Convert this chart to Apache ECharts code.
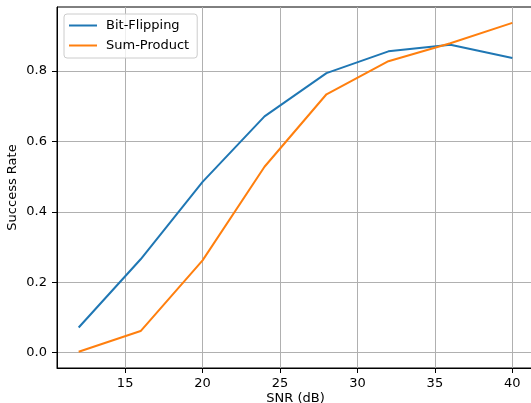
<!DOCTYPE html>
<html>
<head>
<meta charset="utf-8">
<script src="https://cdn.jsdelivr.net/npm/echarts@6/dist/echarts.min.js"></script>
<style>html,body{margin:0;padding:0;background:#fff;}#c{width:531px;height:403px;}</style>
</head>
<body>
<div id="c"></div>
<script>
const snr = [12, 16, 20, 24, 28, 32, 36, 40];
const bitFlipping = [0.071, 0.265, 0.485, 0.671, 0.794, 0.856, 0.875, 0.837];
const sumProduct = [0.002, 0.061, 0.262, 0.528, 0.734, 0.828, 0.879, 0.937];
const xTicks = [15, 20, 25, 30, 35, 40];
const yTicks = [0.0, 0.2, 0.4, 0.6, 0.8];

const font = 'DejaVu Sans';
const chart = echarts.init(document.getElementById('c'), null, {renderer: 'canvas'});
const pairs = a => snr.map((x, i) => [x, a[i]]);
chart.setOption({
  animation: false,
  backgroundColor: '#fff',
  grid: {left: 57, top: 7, width: 477, height: 361, show: true, borderColor: '#000', borderWidth: 1,
         backgroundColor: 'transparent', outerBoundsMode: 'none', containLabel: false},
  legend: {
    left: 64, top: 14, orient: 'vertical',
    padding: [5, 8, 6, 5], itemGap: 7, itemWidth: 28, itemHeight: 2,
    icon: 'rect',
    borderColor: '#cccccc', borderWidth: 1, borderRadius: 3, backgroundColor: 'rgba(255,255,255,0.8)',
    textStyle: {fontFamily: font, fontSize: 13, color: '#000', padding: [0, 0, 0, 4]},
    data: ['Bit-Flipping', 'Sum-Product']
  },
  xAxis: {
    type: 'value', min: 10.6, max: 41.4,
    name: 'SNR (dB)', nameLocation: 'middle', nameGap: 24, nameMoveOverlap: false,
    nameTextStyle: {fontFamily: font, fontSize: 13, color: '#000'},
    axisLine: {show: true, onZero: false, lineStyle: {color: '#000', width: 1}},
    axisTick: {show: true, length: 5, lineStyle: {color: '#000'}, customValues: xTicks},
    axisLabel: {customValues: xTicks, margin: 9, fontFamily: font, fontSize: 13, color: '#000'},
    splitLine: {show: true, lineStyle: {color: '#b0b0b0', width: 1}}
  },
  yAxis: {
    type: 'value', min: -0.044, max: 0.982,
    name: 'Success Rate', nameLocation: 'middle', nameGap: 38, nameMoveOverlap: false,
    nameTextStyle: {fontFamily: font, fontSize: 13, color: '#000'},
    axisLine: {show: true, onZero: false, lineStyle: {color: '#000', width: 1}},
    axisTick: {show: true, length: 5, lineStyle: {color: '#000'}, customValues: yTicks},
    axisLabel: {customValues: yTicks, margin: 10, fontFamily: font, fontSize: 13, color: '#000', formatter: v => v.toFixed(1)},
    splitLine: {show: true, lineStyle: {color: '#b0b0b0', width: 1}}
  },
  series: [
    {name: 'Bit-Flipping', type: 'line', data: pairs(bitFlipping), symbol: 'none', lineStyle: {color: '#1f77b4', width: 2}, itemStyle: {color: '#1f77b4'}},
    {name: 'Sum-Product', type: 'line', data: pairs(sumProduct), symbol: 'none', lineStyle: {color: '#ff7f0e', width: 2}, itemStyle: {color: '#ff7f0e'}}
  ]
});
</script>
</body>
</html>
